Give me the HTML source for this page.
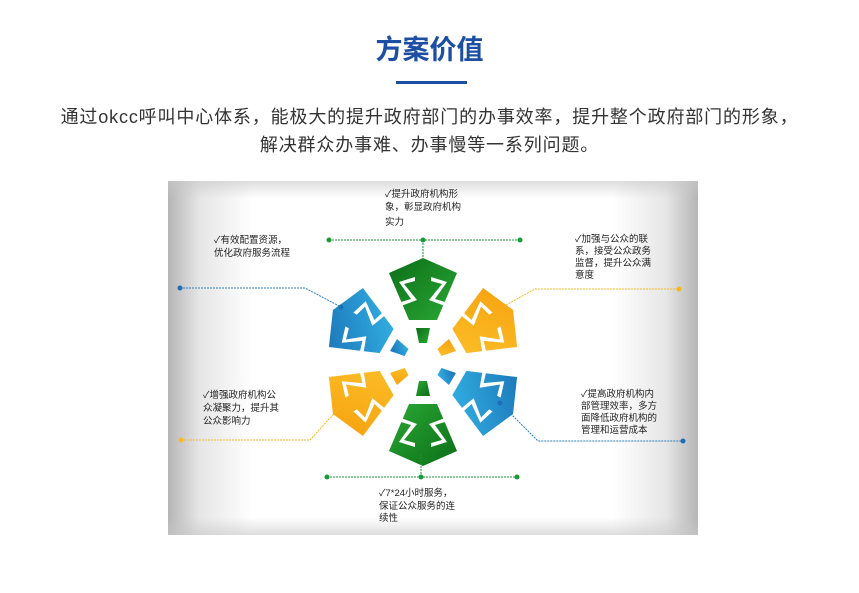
<!DOCTYPE html>
<html><head><meta charset="utf-8"><style>
body{margin:0;width:859px;height:593px;background:#fff;overflow:hidden;font-family:"Liberation Sans","Noto Sans CJK SC",sans-serif;position:relative}
.t{position:absolute;left:0;width:859px;text-align:center}
.d{position:absolute;left:168px;top:181px;width:530px;height:354px;background:linear-gradient(90deg,#b5b5b5 0%,#e6e6e6 6%,#fff 16%,#fff 84%,#e6e6e6 94%,#b5b5b5 100%)}
.d:after{content:"";position:absolute;inset:0;background:linear-gradient(180deg,rgba(200,200,200,.6) 0%,rgba(255,255,255,0) 5%,rgba(255,255,255,0) 95%,rgba(200,200,200,.6) 100%)}
.l{position:absolute;font-size:9.5px;line-height:13px;color:#222;z-index:2}
</style></head><body>
<div class="t" style="top:28px;font-size:27px;font-weight:bold;color:#1c4fa3">方案价值</div>
<div style="position:absolute;left:396px;top:81px;width:71px;height:3px;background:#1c4fa3"></div>
<div class="t" style="top:103px;font-size:18px;letter-spacing:0.85px;line-height:28px;color:#333">通过okcc呼叫中心体系，能极大的提升政府部门的办事效率，提升整个政府部门的形象，<br>解决群众办事难、办事慢等一系列问题。</div>
<div class="d"></div>
<svg style="position:absolute;left:0;top:0;z-index:1" width="859" height="593">
<defs>
<linearGradient id="g" x1="0" y1="0" x2="1" y2="1"><stop offset="0" stop-color="#0c6e18"/><stop offset="1" stop-color="#2aa834"/></linearGradient>
<linearGradient id="b" x1="0" y1="0" x2="1" y2="1"><stop offset="0" stop-color="#1a72b5"/><stop offset="1" stop-color="#35b6e8"/></linearGradient>
<linearGradient id="o" x1="0" y1="0" x2="1" y2="1"><stop offset="0" stop-color="#f6a10e"/><stop offset="1" stop-color="#fcc12a"/></linearGradient>
<g id="p">
<path d="M0,-104 L34,-89 L14,-42 L-14,-42 L-34,-89 Z"/>
<path d="M-4,-19 L4,-19 L7,-34 L-7,-34 Z"/>
<path d="M-24,-80 L-8,-85 L-8,-81 L-19,-78 L-6,-62 L-22,-56 L-22,-60 L-12,-63 Z M24,-80 L8,-85 L8,-81 L19,-78 L6,-62 L22,-56 L22,-60 L12,-63 Z" fill="#fff"/>
</g>
</defs>
<g transform="translate(423,362)">
<use href="#p" fill="url(#g)"/>
<use href="#p" fill="url(#o)" transform="rotate(60)"/>
<use href="#p" fill="url(#b)" transform="rotate(120)"/>
<use href="#p" fill="url(#g)" transform="rotate(180)"/>
<use href="#p" fill="url(#o)" transform="rotate(240)"/>
<use href="#p" fill="url(#b)" transform="rotate(300)"/>
</g>
<g stroke-width="1" stroke-dasharray="2,1" fill="none">
<path d="M329,240 H520 M423,240 V260" stroke="#1a9a3a"/>
<path d="M327,477 H517 M421,477 V455" stroke="#1a9a3a"/>
<path d="M180,288 H305 L341,307" stroke="#2a7fc0"/>
<path d="M506,305 L535,289 H679" stroke="#f5b820"/>
<path d="M181,440 H310 L340,407" stroke="#f5b820"/>
<path d="M500,403 L538,441 H683" stroke="#2a7fc0"/>
</g>
<g fill="#1a9a3a"><circle cx="329" cy="240" r="2.5"/><circle cx="423" cy="240" r="2.5"/><circle cx="520" cy="240" r="2.5"/><circle cx="327" cy="477" r="2.5"/><circle cx="421" cy="477" r="2.5"/><circle cx="517" cy="477" r="2.5"/></g>
<g fill="#1a6fb8"><circle cx="180" cy="288" r="2.5"/><circle cx="341" cy="307" r="2.5"/><circle cx="683" cy="441" r="2.5"/><circle cx="500" cy="403" r="2.5"/></g>
<g fill="#f5b820"><circle cx="679" cy="289" r="2.5"/><circle cx="181" cy="440" r="2.5"/></g>
</svg>
<div class="l" style="left:385px;top:188px">✓提升政府机构形<br>象，彰显政府机构<br><span style="line-height:17px">实力</span></div>
<div class="l" style="left:214px;top:234px">✓有效配置资源，<br>优化政府服务流程</div>
<div class="l" style="left:575px;top:234px;line-height:12px">✓加强与公众的联<br>系，接受公众政务<br>监督，提升公众满<br>意度</div>
<div class="l" style="left:203px;top:389px">✓增强政府机构公<br>众凝聚力，提升其<br>公众影响力</div>
<div class="l" style="left:581px;top:389px;line-height:12px">✓提高政府机构内<br>部管理效率，多方<br>面降低政府机构的<br>管理和运营成本</div>
<div class="l" style="left:379px;top:488px;line-height:12.5px">✓7*24小时服务，<br>保证公众服务的连<br>续性</div>
</body></html>
